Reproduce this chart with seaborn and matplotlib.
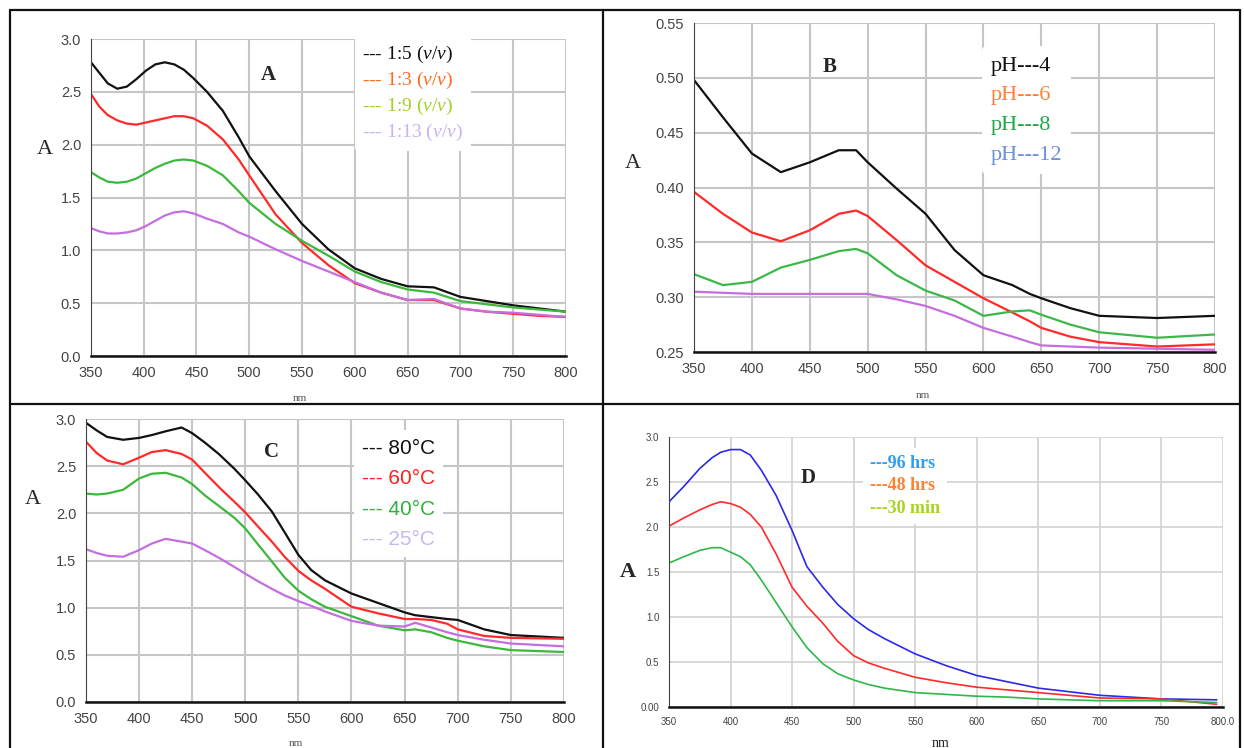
import pandas as pd
import matplotlib.pyplot as plt
import seaborn as sns
from matplotlib.lines import Line2D

# Panel A - dilution ratio
wl_a = [350, 358, 366, 375, 384, 393, 402, 411, 420, 429, 438, 447, 460, 475, 490, 500, 525, 550, 575, 600, 625, 650, 675, 700, 725, 750, 775, 800]
a_15 = [2.78, 2.68, 2.58, 2.53, 2.55, 2.62, 2.70, 2.76, 2.78, 2.76, 2.71, 2.63, 2.50, 2.32, 2.07, 1.89, 1.56, 1.25, 1.01, 0.83, 0.73, 0.66, 0.65, 0.56, 0.52, 0.48, 0.45, 0.42]
a_13 = [2.48, 2.36, 2.28, 2.23, 2.20, 2.19, 2.21, 2.23, 2.25, 2.27, 2.27, 2.25, 2.18, 2.05, 1.86, 1.71, 1.34, 1.07, 0.86, 0.69, 0.60, 0.53, 0.53, 0.45, 0.42, 0.40, 0.38, 0.37]
a_19 = [1.74, 1.69, 1.65, 1.64, 1.65, 1.68, 1.73, 1.78, 1.82, 1.85, 1.86, 1.85, 1.80, 1.71, 1.56, 1.45, 1.25, 1.09, 0.95, 0.80, 0.70, 0.63, 0.60, 0.52, 0.49, 0.46, 0.44, 0.42]
a_113 = [1.21, 1.18, 1.16, 1.16, 1.17, 1.19, 1.23, 1.28, 1.33, 1.36, 1.37, 1.35, 1.30, 1.25, 1.17, 1.13, 1.01, 0.90, 0.80, 0.70, 0.60, 0.53, 0.54, 0.45, 0.42, 0.41, 0.39, 0.37]
labels_a = [r"--- 1:5 ($\mathit{v/v}$)", r"--- 1:3 ($\mathit{v/v}$)", r"--- 1:9 ($\mathit{v/v}$)", r"--- 1:13 ($\mathit{v/v}$)"]

# Panel B - pH
wl_b = [350, 375, 400, 425, 450, 475, 490, 500, 525, 550, 575, 600, 625, 640, 650, 675, 700, 750, 800]
b_4 = [0.498, 0.464, 0.431, 0.414, 0.423, 0.434, 0.434, 0.423, 0.399, 0.376, 0.343, 0.320, 0.311, 0.303, 0.299, 0.290, 0.283, 0.281, 0.283]
b_6 = [0.396, 0.376, 0.359, 0.351, 0.361, 0.376, 0.379, 0.374, 0.352, 0.329, 0.314, 0.299, 0.286, 0.278, 0.272, 0.264, 0.259, 0.255, 0.257]
b_8 = [0.321, 0.311, 0.314, 0.327, 0.334, 0.342, 0.344, 0.340, 0.320, 0.306, 0.297, 0.283, 0.287, 0.288, 0.284, 0.275, 0.268, 0.263, 0.266]
b_12 = [0.305, 0.304, 0.303, 0.303, 0.303, 0.303, 0.303, 0.303, 0.298, 0.292, 0.283, 0.272, 0.264, 0.259, 0.256, 0.255, 0.254, 0.253, 0.252]
labels_b = ["pH---4", "pH---6", "pH---8", "pH---12"]

# Panel C - temperature
wl_c = [350, 360, 370, 385, 400, 412, 425, 440, 450, 462, 475, 490, 500, 512, 525, 537, 550, 562, 575, 600, 625, 650, 660, 675, 690, 700, 725, 750, 800]
c_80 = [2.96, 2.88, 2.81, 2.78, 2.80, 2.83, 2.87, 2.91, 2.85, 2.75, 2.63, 2.47, 2.35, 2.20, 2.02, 1.80, 1.56, 1.40, 1.29, 1.15, 1.05, 0.95, 0.92, 0.90, 0.88, 0.87, 0.77, 0.71, 0.68]
c_60 = [2.76, 2.64, 2.56, 2.52, 2.59, 2.65, 2.67, 2.63, 2.57, 2.43, 2.28, 2.12, 2.01, 1.86, 1.70, 1.54, 1.39, 1.29, 1.20, 1.01, 0.94, 0.88, 0.88, 0.87, 0.83, 0.77, 0.70, 0.68, 0.67]
c_40 = [2.21, 2.20, 2.21, 2.25, 2.37, 2.42, 2.43, 2.38, 2.31, 2.19, 2.08, 1.95, 1.84, 1.67, 1.49, 1.32, 1.18, 1.09, 1.01, 0.91, 0.81, 0.76, 0.77, 0.74, 0.68, 0.65, 0.59, 0.55, 0.53]
c_25 = [1.62, 1.58, 1.55, 1.54, 1.61, 1.68, 1.73, 1.70, 1.68, 1.61, 1.53, 1.43, 1.36, 1.28, 1.20, 1.13, 1.07, 1.02, 0.96, 0.86, 0.81, 0.80, 0.84, 0.79, 0.74, 0.71, 0.66, 0.62, 0.59]
labels_c = ["--- 80°C", "--- 60°C", "--- 40°C", "--- 25°C"]

# Panel D - reaction time
wl_d = [350, 362, 375, 385, 392, 400, 408, 416, 425, 437, 450, 462, 475, 487, 500, 512, 525, 550, 575, 600, 625, 650, 675, 700, 750, 795]
d_96 = [2.28, 2.45, 2.65, 2.77, 2.83, 2.86, 2.86, 2.80, 2.63, 2.35, 1.96, 1.56, 1.33, 1.14, 0.98, 0.86, 0.76, 0.59, 0.46, 0.35, 0.28, 0.21, 0.17, 0.13, 0.09, 0.08]
d_48 = [2.01, 2.10, 2.19, 2.25, 2.28, 2.26, 2.22, 2.14, 2.00, 1.70, 1.33, 1.12, 0.93, 0.73, 0.57, 0.49, 0.43, 0.33, 0.27, 0.22, 0.19, 0.16, 0.13, 0.10, 0.09, 0.03]
d_30 = [1.60, 1.67, 1.74, 1.77, 1.77, 1.72, 1.67, 1.58, 1.41, 1.16, 0.89, 0.66, 0.48, 0.37, 0.30, 0.25, 0.21, 0.16, 0.14, 0.12, 0.11, 0.09, 0.08, 0.07, 0.07, 0.05]
labels_d = ["---96 hrs", "---48 hrs", "---30 min"]

xticks = [350, 400, 450, 500, 550, 600, 650, 700, 750, 800]

sns.set_style("white")
plt.rcParams["font.family"] = ["Liberation Sans", "DejaVu Sans"]
plt.rcParams["mathtext.fontset"] = "custom"
plt.rcParams["mathtext.rm"] = "Liberation Serif"
plt.rcParams["mathtext.it"] = "Liberation Serif:italic"

fig = plt.figure(figsize=(12.44, 7.48), dpi=100)


def panel(rect, wl, series, labels, line_colors, text_colors, ylim, yticks, yticklabels,
          letter, letter_xy, ylab_xy, nm_xy, leg_anchor, leg_font, leg_space,
          lw=1.6, tick_size=10.5):
    ax = fig.add_axes(rect)
    frames = []
    for lab, vals in zip(labels, series):
        frames.append(pd.DataFrame({"nm": wl, "A": vals, "s": lab}))
    df = pd.concat(frames)
    sns.lineplot(data=df, x="nm", y="A", hue="s", palette=line_colors, estimator=None,
                 linewidth=lw, legend=False, ax=ax)
    ax.set_xlim(350, 800)
    ax.set_ylim(*ylim)
    ax.set_xticks(xticks)
    ax.set_yticks(yticks)
    ax.set_yticklabels(yticklabels)
    ax.grid(True, color="#c6c6c6", linewidth=1.5)
    ax.set_axisbelow(True)
    for s in ["top", "right"]:
        ax.spines[s].set_visible(False)
    ax.spines["left"].set_color("#444444")
    ax.spines["bottom"].set_color("#111111")
    ax.spines["bottom"].set_linewidth(1.8)
    ax.tick_params(direction="out", length=4, width=1, color="#333333",
                   labelcolor="#444444", labelsize=tick_size, pad=3)
    ax.set_xlabel("nm", fontsize=8, color="#555555", family="Liberation Serif")
    ax.xaxis.set_label_coords(*nm_xy)
    ax.set_ylabel("A", fontsize=16, rotation=0, family="Liberation Serif", va="center", ha="center")
    ax.yaxis.set_label_coords(*ylab_xy)
    ax.text(letter_xy[0], letter_xy[1], letter, transform=ax.transAxes, fontsize=15,
            fontweight="bold", family="Liberation Serif", ha="center", va="center")
    handles = [Line2D([], [], linestyle="none") for _ in labels]
    leg = ax.legend(handles, labels, loc="upper left", bbox_to_anchor=leg_anchor,
                    handlelength=0, handletextpad=0, borderpad=0.4, labelspacing=leg_space,
                    prop=leg_font, frameon=True, framealpha=1, borderaxespad=0)
    leg.get_frame().set_edgecolor("none")
    leg.get_frame().set_facecolor("white")
    for t, c in zip(leg.get_texts(), text_colors):
        t.set_color(c)
    return ax


panel([0.0731, 0.524, 0.3818, 0.4238], wl_a, [a_15, a_13, a_19, a_113], labels_a,
      ["#111111", "#ff2a2a", "#3cb83c", "#c46ee0"],
      ["#111111", "#ff6a22", "#9fd321", "#c9b2f2"],
      (0, 3), [0, 0.5, 1.0, 1.5, 2.0, 2.5, 3.0], ["0.0", "0.5", "1.0", "1.5", "2.0", "2.5", "3.0"],
      "A", (0.373, 0.886), (-0.097, 0.65), (0.44, -0.12), (0.555, 1.01),
      {"family": "Liberation Serif", "size": 14}, 0.25)

panel([0.5579, 0.5294, 0.4188, 0.4398], wl_b, [b_4, b_6, b_8, b_12], labels_b,
      ["#111111", "#ff2a2a", "#3cb84a", "#c46ee0"],
      ["#111111", "#ff8030", "#20a848", "#6f8fd8"],
      (0.25, 0.55), [0.25, 0.30, 0.35, 0.40, 0.45, 0.50, 0.55],
      ["0.25", "0.30", "0.35", "0.40", "0.45", "0.50", "0.55"],
      "B", (0.261, 0.866), (-0.117, 0.574), (0.44, -0.12), (0.553, 0.93),
      {"family": "Liberation Serif", "size": 16}, 0.42)

panel([0.0691, 0.0615, 0.3842, 0.3783], wl_c, [c_80, c_60, c_40, c_25], labels_c,
      ["#111111", "#ff2a2a", "#3cb83c", "#c46ee0"],
      ["#111111", "#ff2020", "#30b040", "#c8b8f2"],
      (0, 3), [0, 0.5, 1.0, 1.5, 2.0, 2.5, 3.0], ["0.0", "0.5", "1.0", "1.5", "2.0", "2.5", "3.0"],
      "C", (0.389, 0.883), (-0.111, 0.714), (0.44, -0.13), (0.56, 0.96),
      {"family": "Liberation Sans", "size": 15}, 0.55)

ax_d = panel([0.5378, 0.0548, 0.4453, 0.361], wl_d, [d_96, d_48, d_30], labels_d,
             ["#2a2ae8", "#ff2a2a", "#2fb84a"],
             ["#2fa0f0", "#ff8030", "#a8d420"],
             (0, 3), [0, 0.5, 1.0, 1.5, 2.0, 2.5, 3.0], ["0.00", "0.5", "1.0", "1.5", "2.0", "2.5", "3.0"],
             "D", (0.251, 0.848), (-0.074, 0.5), (0.49, -0.11), (0.35, 0.96),
             {"family": "Liberation Serif", "size": 13, "weight": "bold"}, 0.3,
             lw=1.2, tick_size=7)
ax_d.set_xticklabels(["350", "400", "450", "500", "550", "600", "650", "700", "750", "800.0"])
ax_d.xaxis.label.set_fontsize(10)
ax_d.xaxis.label.set_color("#222222")
ax_d.yaxis.label.set_fontweight("bold")
ax_d.grid(True, color="#d2d2d2", linewidth=1.2)

# frame and dividers around the four panels
W, H = 1244, 748
for x0, y0, x1, y1 in [(10, 10, 10, 748), (1240, 10, 1240, 748), (10, 10, 1240, 10),
                       (603, 10, 603, 748), (10, 404, 1240, 404)]:
    fig.add_artist(Line2D([x0 / W, x1 / W], [1 - y0 / H, 1 - y1 / H], color="#111111", linewidth=1.6))

plt.savefig("out.png", dpi=100)
